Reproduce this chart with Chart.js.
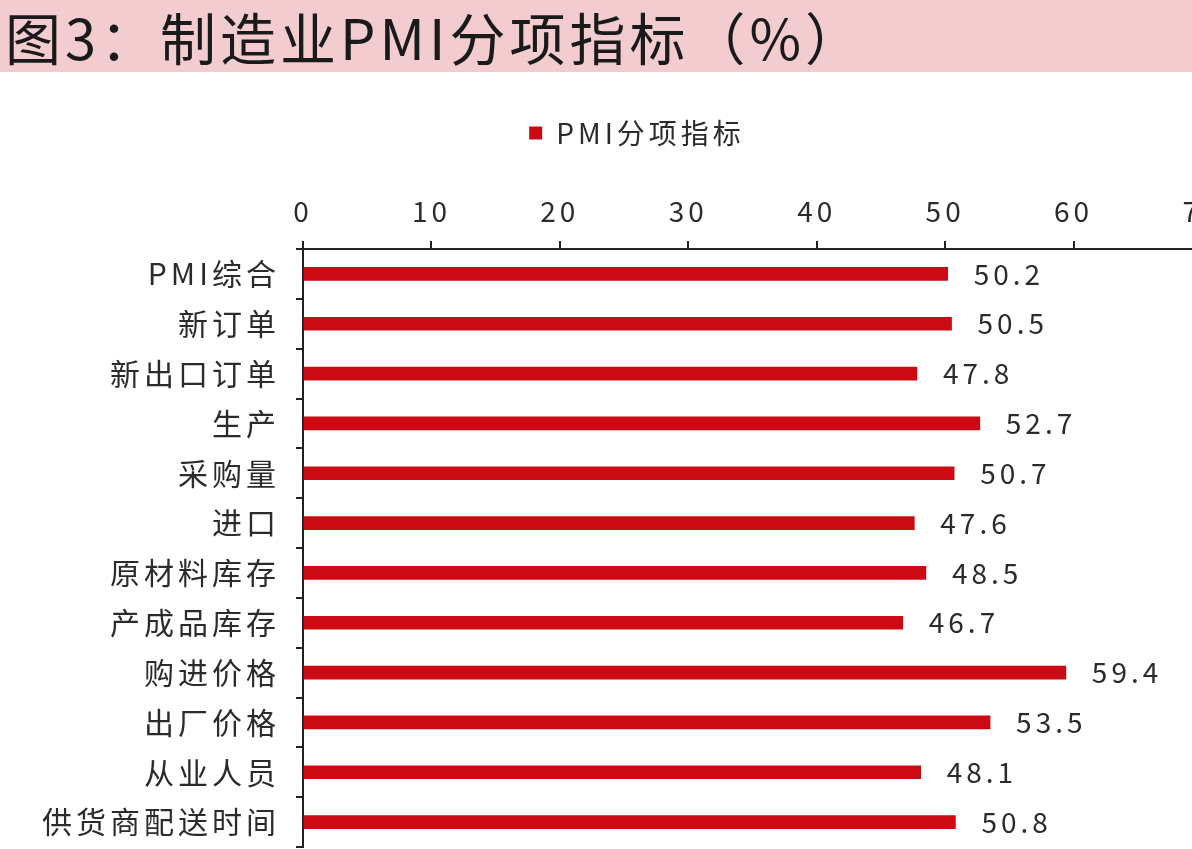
<!DOCTYPE html>
<html>
<head>
<meta charset="utf-8">
<script src="https://cdn.jsdelivr.net/npm/chart.js@4.4.1/dist/chart.umd.min.js"></script>
<style>
html, body { margin: 0; padding: 0; background: #fff; overflow: hidden; width: 1192px; height: 849px; }
#title { height: 72px; background: #F3CCCF; font-family: "Noto Sans CJK SC"; font-size: 56px; line-height: 72px;
         padding-left: 5px; color: #1a1a1a; white-space: nowrap; letter-spacing: 4px; }
#wrap { position: absolute; left: 0; top: 72px; }
</style>
</head>
<body>
<div id="title">图3：制造业PMI分项指标（%）</div>
<div id="wrap"><canvas id="chart" width="1274" height="777"></canvas></div>
<script>
const categories = ['PMI综合', '新订单', '新出口订单', '生产', '采购量', '进口', '原材料库存',
                    '产成品库存', '购进价格', '出厂价格', '从业人员', '供货商配送时间'];
const pmiValues = [50.2, 50.5, 47.8, 52.7, 50.7, 47.6, 48.5, 46.7, 59.4, 53.5, 48.1, 50.8];
const seriesName = 'PMI分项指标';
const xMin = 0, xMax = 70, xStep = 10;

const fontFamily = '"Noto Sans CJK SC", "Noto Sans", sans-serif';
const textColor = '#2b2b2b';
const barColor = '#CC0A14';

// the source font is wide, so space the canvas text out a bit
const wideText = {
    id: 'wideText',
    beforeUpdate(chart) { chart.ctx.letterSpacing = '4px'; },
    beforeDraw(chart) { chart.ctx.letterSpacing = '4px'; }
};

// value labels to the right of each bar
const barLabels = {
    id: 'barLabels',
    afterDatasetsDraw(chart) {
        const ctx = chart.ctx;
        const meta = chart.getDatasetMeta(0);
        ctx.save();
        ctx.font = '28px ' + fontFamily;
        ctx.fillStyle = textColor;
        ctx.textAlign = 'left';
        ctx.textBaseline = 'middle';
        meta.data.forEach((bar, i) => {
            ctx.fillText(pmiValues[i].toFixed(1), bar.x + 26, bar.y);
        });
        ctx.restore();
    }
};

const ctx = document.getElementById('chart').getContext('2d');
const chart = new Chart(ctx, {
    type: 'bar',
    data: {
        labels: categories,
        datasets: [{
            label: seriesName,
            data: pmiValues,
            backgroundColor: barColor,
            borderWidth: 0,
            barThickness: 13
        }]
    },
    options: {
        indexAxis: 'y',
        responsive: false,
        animation: false,
        layout: { padding: { top: 37, right: 0, bottom: 2, left: 0 } },
        plugins: {
            legend: {
                position: 'top',
                labels: {
                    boxWidth: 13,
                    boxHeight: 13,
                    padding: 10,
                    color: textColor,
                    font: { size: 28, family: fontFamily }
                }
            },
            tooltip: { enabled: false }
        },
        scales: {
            x: {
                position: 'top',
                min: xMin,
                max: xMax,
                afterFit: (scale) => {
                    scale.height = 92;
                    scale.paddingRight = 72;   // room on the right, legend stays centred on the canvas
                },
                ticks: {
                    stepSize: xStep,
                    padding: 13,
                    color: textColor,
                    font: { size: 28, family: fontFamily }
                },
                grid: { drawOnChartArea: false, drawTicks: true, tickLength: 8, color: '#222', lineWidth: 2 },
                border: { display: true, color: '#222', width: 2 }
            },
            y: {
                afterFit: (scale) => {
                    scale.width = 303;
                    scale.paddingTop = 0;
                    scale.paddingBottom = 0;
                },
                ticks: {
                    padding: 16,
                    color: textColor,
                    font: { size: 30, family: fontFamily }
                },
                grid: { offset: true, drawOnChartArea: false, drawTicks: true, tickLength: 7, color: '#222', lineWidth: 2 },
                border: { display: true, color: '#222', width: 2 }
            }
        }
    },
    plugins: [wideText, barLabels]
});
</script>
</body>
</html>
